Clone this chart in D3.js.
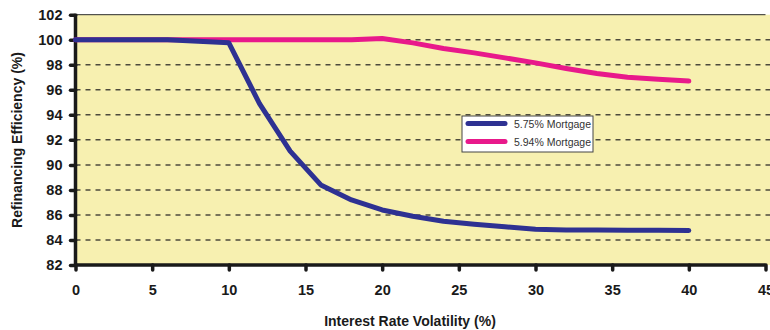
<!DOCTYPE html>
<html>
<head>
<meta charset="utf-8">
<script src="https://cdn.jsdelivr.net/npm/d3@7"></script>
<style>
  html, body { margin: 0; padding: 0; background: #ffffff; }
  svg { display: block; }
  text { font-family: "Liberation Sans", Arial, sans-serif; }
</style>
</head>
<body>
<script>
// Interest rate volatility (%) sampled every 2 points
const volatility = [0, 2, 4, 6, 8, 10, 12, 14, 16, 18, 20, 22, 24, 26, 28, 30, 32, 34, 36, 38, 40];
// Refinancing efficiency (%) for each mortgage rate
const mortgage575 = [100, 100, 100, 100, 99.88, 99.75, 94.9, 91.1, 88.4, 87.2, 86.4, 85.9, 85.5, 85.25, 85.05, 84.85, 84.8, 84.8, 84.78, 84.77, 84.75];
const mortgage594 = [100, 100, 100, 100, 100, 100, 100, 100, 100, 100, 100.1, 99.75, 99.3, 98.95, 98.55, 98.15, 97.7, 97.3, 97.0, 96.85, 96.7];
const seriesNames = ["5.75% Mortgage", "5.94% Mortgage"];
const xTicks = [0, 5, 10, 15, 20, 25, 30, 35, 40, 45];
const yTicks = [82, 84, 86, 88, 90, 92, 94, 96, 98, 100, 102];

(function () {
  const W = 770, H = 330;
  const mLeft = 75.5, mTop = 14.7, mBottom = 265, mRight = 765.5;

  const svg = d3.select("body").append("svg").attr("width", W).attr("height", H);

  const x = d3.scaleLinear().domain([0, 45]).range([mLeft, mRight]);
  const y = d3.scaleLinear().domain([82, 102]).range([mBottom, mTop]);

  // plot background
  svg.append("rect")
    .attr("x", mLeft).attr("y", mTop)
    .attr("width", W - mLeft).attr("height", mBottom - mTop)
    .attr("fill", "#f7f0b0");

  // dashed horizontal gridlines
  svg.append("g").selectAll("line")
    .data(yTicks.filter(v => v > 82 && v < 102))
    .join("line")
    .attr("x1", mLeft).attr("x2", W)
    .attr("y1", d => y(d)).attr("y2", d => y(d))
    .attr("stroke", "#4d4a3c").attr("stroke-width", 1.5)
    .attr("stroke-dasharray", "5,5");

  // top border
  svg.append("line")
    .attr("x1", mLeft).attr("x2", mRight)
    .attr("y1", mTop).attr("y2", mTop)
    .attr("stroke", "#2a2a2a").attr("stroke-width", 1);

  const tickFont = sel => sel
    .attr("font-size", 14.5).attr("font-weight", "bold").attr("fill", "#1a1a1a")
    .attr("font-family", "'Liberation Sans', Arial, sans-serif");

  // y axis
  const yAxis = svg.append("g")
    .attr("transform", `translate(${mLeft},0)`)
    .call(d3.axisLeft(y).tickValues(yTicks).tickSize(5).tickPadding(8).tickFormat(d3.format("d")));
  yAxis.select(".domain").attr("stroke", "#1a1a1a").attr("stroke-width", 3.5)
    .attr("d", `M0,${mTop - 1}V${mBottom + 1}`);
  yAxis.selectAll(".tick line").attr("stroke", "#1a1a1a").attr("stroke-width", 3.5).attr("stroke-linecap", "round");
  yAxis.selectAll(".tick text").call(tickFont);

  // x axis
  const xAxis = svg.append("g")
    .attr("transform", `translate(0,${mBottom})`)
    .call(d3.axisBottom(x).tickValues(xTicks).tickSize(5).tickPadding(15).tickFormat(d3.format("d")));
  xAxis.select(".domain").attr("stroke", "#1a1a1a").attr("stroke-width", 3.5)
    .attr("d", `M${mLeft - 1},0H${mRight}`);
  xAxis.selectAll(".tick line").attr("stroke", "#1a1a1a").attr("stroke-width", 3.5).attr("stroke-linecap", "round");
  xAxis.selectAll(".tick text").call(tickFont);

  // axis titles
  svg.append("text")
    .attr("x", 410).attr("y", 326)
    .attr("text-anchor", "middle")
    .attr("font-size", 14).attr("font-weight", "bold").attr("fill", "#1a1a1a")
    .text("Interest Rate Volatility (%)");

  svg.append("text")
    .attr("transform", `translate(22,140) rotate(-90)`)
    .attr("text-anchor", "middle")
    .attr("font-size", 14).attr("font-weight", "bold").attr("fill", "#1a1a1a")
    .text("Refinancing Efficiency (%)");

  // series lines (5.94% first, 5.75% drawn on top)
  const colors = ["#2e3192", "#e8198b"];
  const series = [mortgage575, mortgage594];
  const line = d3.line().x((d, i) => x(volatility[i])).y(d => y(d));

  svg.append("g").selectAll("path")
    .data([1, 0])
    .join("path")
    .attr("d", k => line(series[k]))
    .attr("fill", "none")
    .attr("stroke", k => colors[k])
    .attr("stroke-width", 5)
    .attr("stroke-linecap", "round")
    .attr("stroke-linejoin", "round");

  // legend
  const lg = svg.append("g");
  lg.append("rect")
    .attr("x", 462).attr("y", 116)
    .attr("width", 131).attr("height", 36)
    .attr("fill", "#ffffff").attr("stroke", "#444").attr("stroke-width", 1);
  seriesNames.forEach((name, i) => {
    const ly = 123.5 + i * 18;
    lg.append("line")
      .attr("x1", 468).attr("x2", 505)
      .attr("y1", ly).attr("y2", ly)
      .attr("stroke", colors[i]).attr("stroke-width", 5).attr("stroke-linecap", "round");
    lg.append("text")
      .attr("x", 514).attr("y", ly + 4)
      .attr("font-size", 10.5).attr("fill", "#333")
      .text(name);
  });
})();
</script>
</body>
</html>
